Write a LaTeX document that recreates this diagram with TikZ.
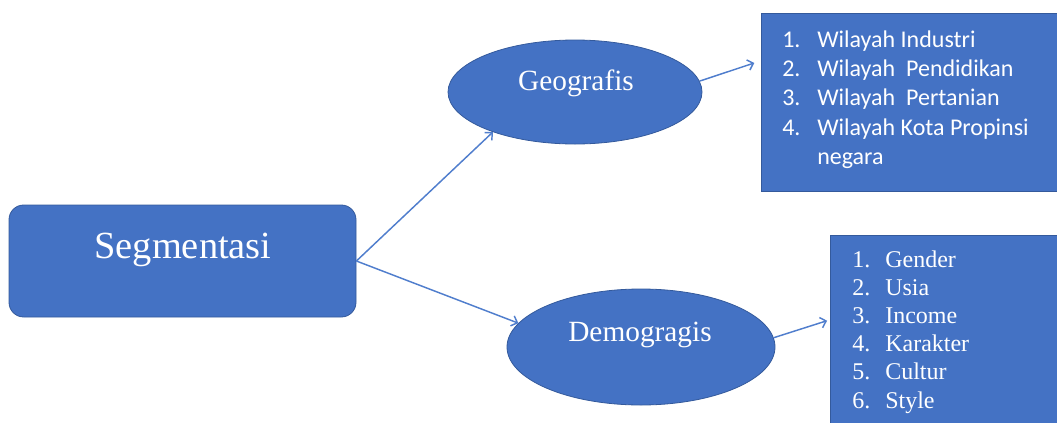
\documentclass[tikz,border=0pt]{standalone}
\usepackage{fontspec}
\setmainfont{Liberation Serif}
\newfontfamily\calibri{Carlito}
\usetikzlibrary{shapes.geometric,arrows.meta,calc}
\definecolor{officeblue}{RGB}{68,114,196}
\definecolor{officeline}{RGB}{52,90,156}
\definecolor{linkblue}{RGB}{80,126,205}
\tikzset{
  segbox/.style={draw=officeline,fill=officeblue,rounded corners=11pt,line width=0.6pt,inner sep=0pt},
  oval/.style={ellipse,draw=officeline,fill=officeblue,line width=0.6pt,inner sep=0pt},
  listbox/.style={draw=officeline,fill=officeblue,line width=0.6pt,inner sep=0pt},
  whitetext/.style={text=white,inner sep=0pt,anchor=base},
  link/.style={draw=linkblue,line width=1.1pt,-{Straight Barb[length=4pt,width=8pt]}}
}
\begin{document}
\begin{tikzpicture}[x=0.75pt,y=-0.75pt]
\clip (0,0) rectangle (1057,422);
% shapes
\node[segbox,minimum width=260.25pt,minimum height=84pt] (seg) at (182.5,261) {};
\node[oval,minimum width=190.5pt,minimum height=78pt] (geo) at (575,92) {};
\node[oval,minimum width=201pt,minimum height=87pt] (dem) at (641,347) {};
\node[listbox,minimum width=225.75pt,minimum height=133.5pt] (list1) at (911.5,102) {};
\node[listbox,minimum width=174pt,minimum height=144.75pt] (list2) at (946,331.5) {};
% texts
\node[whitetext,font=\fontsize{28.8}{34}\selectfont] (segtxt) at (183,258) {Segmentasi};
\node[whitetext,font=\fontsize{22}{26}\selectfont] (geotxt) at (576,90) {Geografis};
\node[whitetext,font=\fontsize{22}{26}\selectfont] (demtxt) at (640,341) {Demogragis};
\node[whitetext,anchor=base west,font=\calibri\fontsize{18}{22.1}\selectfont] (items1) at (782,47)
  {\begin{tabular}[t]{@{}p{26.25pt}@{}l@{}}
   1.&Wilayah Industri\\
   2.&Wilayah\ \ Pendidikan\\
   3.&Wilayah\ \ Pertanian\\
   4.&Wilayah Kota Propinsi\\
     &negara
   \end{tabular}};
\node[whitetext,anchor=base west,font=\fontsize{18}{21.15}\selectfont] (items2) at (852,267)
  {\begin{tabular}[t]{@{}p{24.75pt}@{}l@{}}
   1.&Gender\\
   2.&Usia\\
   3.&Income\\
   4.&Karakter\\
   5.&Cultur\\
   6.&Style
   \end{tabular}};
% arrows
\draw[link] (seg.east) -- (geo.206);
\draw[link] (seg.east) -- (dem.169);
\draw[link,shorten >=5pt] (geo.5) -- ($(list1.north west)!0.27!(list1.south west)$);
\draw[link,shorten >=2pt] (dem.4) -- ($(list2.north west)!0.44!(list2.south west)$);
\end{tikzpicture}
\end{document}
